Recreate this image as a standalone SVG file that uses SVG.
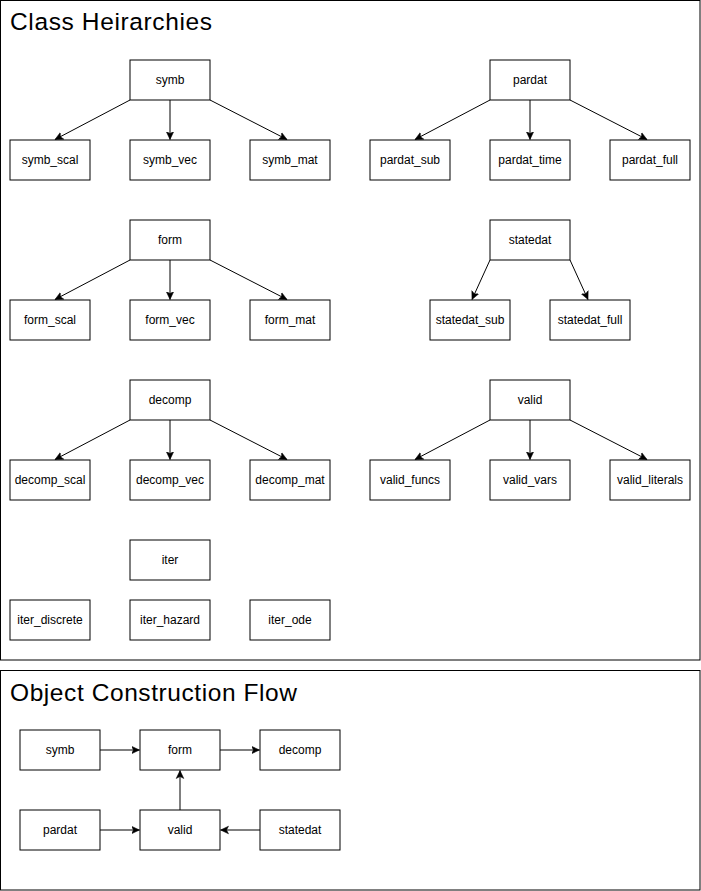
<svg xmlns="http://www.w3.org/2000/svg" width="701" height="891" viewBox="0 0 701 891">
<defs>
<style>
.frame{fill:#fff;stroke:#000;stroke-width:1}
.node rect{fill:#fff;stroke:#000;stroke-width:1}
.node text{font-family:"Liberation Sans",Arial,Helvetica,sans-serif;font-size:12px;fill:#000;text-anchor:middle;dominant-baseline:central}
.title{font-family:"Liberation Sans",Arial,Helvetica,sans-serif;font-size:24.5px;fill:#000}
.edge{fill:none;stroke:#000;stroke-width:1;marker-end:url(#arr)}
</style>
<marker id="arr" markerUnits="userSpaceOnUse" markerWidth="10" markerHeight="10" viewBox="0 0 10 10" refX="8" refY="5" orient="auto">
<path d="M0,1.2 L8,5 L0,8.8 L2,5 Z" fill="#000" stroke="#000" stroke-width="0.5"/>
</marker>
</defs>
<rect width="701" height="891" fill="#fff"/>
<g id="frame-class">
<rect class="frame" x="0.5" y="0.5" width="699.5" height="659.5"/>
<text class="title" x="10" y="30" textLength="202" lengthAdjust="spacing">Class Heirarchies</text>
</g>
<g id="frame-flow">
<rect class="frame" x="0.5" y="670.5" width="699.5" height="219.5"/>
<text class="title" x="10" y="700.5" textLength="287" lengthAdjust="spacing">Object Construction Flow</text>
</g>
<g id="connectors">
<line class="edge" x1="130" y1="100" x2="55" y2="139.5"/>
<line class="edge" x1="170" y1="100" x2="170" y2="139.5"/>
<line class="edge" x1="210" y1="100" x2="287" y2="139.5"/>
<line class="edge" x1="490" y1="100" x2="415" y2="139.5"/>
<line class="edge" x1="530" y1="100" x2="530" y2="139.5"/>
<line class="edge" x1="570" y1="100" x2="647" y2="139.5"/>
<line class="edge" x1="130" y1="260" x2="55" y2="299.5"/>
<line class="edge" x1="170" y1="260" x2="170" y2="299.5"/>
<line class="edge" x1="210" y1="260" x2="287" y2="299.5"/>
<line class="edge" x1="490" y1="260" x2="472" y2="299.5"/>
<line class="edge" x1="570" y1="260" x2="588" y2="299.5"/>
<line class="edge" x1="130" y1="420" x2="55" y2="459.5"/>
<line class="edge" x1="170" y1="420" x2="170" y2="459.5"/>
<line class="edge" x1="210" y1="420" x2="287" y2="459.5"/>
<line class="edge" x1="490" y1="420" x2="415" y2="459.5"/>
<line class="edge" x1="530" y1="420" x2="530" y2="459.5"/>
<line class="edge" x1="570" y1="420" x2="647" y2="459.5"/>
<line class="edge" x1="100" y1="750" x2="139.5" y2="750"/>
<line class="edge" x1="220" y1="750" x2="259.5" y2="750"/>
<line class="edge" x1="100" y1="830" x2="139.5" y2="830"/>
<line class="edge" x1="260" y1="830" x2="220.5" y2="830"/>
<line class="edge" x1="180" y1="810" x2="180" y2="770.5"/>
</g>
<g id="symb" class="node"><rect x="130" y="60" width="80" height="40"/><text x="170" y="80">symb</text></g>
<g id="symb_scal" class="node"><rect x="10" y="140" width="80" height="40"/><text x="50" y="160">symb_scal</text></g>
<g id="symb_vec" class="node"><rect x="130" y="140" width="80" height="40"/><text x="170" y="160">symb_vec</text></g>
<g id="symb_mat" class="node"><rect x="250" y="140" width="80" height="40"/><text x="290" y="160">symb_mat</text></g>
<g id="pardat" class="node"><rect x="490" y="60" width="80" height="40"/><text x="530" y="80">pardat</text></g>
<g id="pardat_sub" class="node"><rect x="370" y="140" width="80" height="40"/><text x="410" y="160">pardat_sub</text></g>
<g id="pardat_time" class="node"><rect x="490" y="140" width="80" height="40"/><text x="530" y="160">pardat_time</text></g>
<g id="pardat_full" class="node"><rect x="610" y="140" width="80" height="40"/><text x="650" y="160">pardat_full</text></g>
<g id="form" class="node"><rect x="130" y="220" width="80" height="40"/><text x="170" y="240">form</text></g>
<g id="form_scal" class="node"><rect x="10" y="300" width="80" height="40"/><text x="50" y="320">form_scal</text></g>
<g id="form_vec" class="node"><rect x="130" y="300" width="80" height="40"/><text x="170" y="320">form_vec</text></g>
<g id="form_mat" class="node"><rect x="250" y="300" width="80" height="40"/><text x="290" y="320">form_mat</text></g>
<g id="statedat" class="node"><rect x="490" y="220" width="80" height="40"/><text x="530" y="240">statedat</text></g>
<g id="statedat_sub" class="node"><rect x="430" y="300" width="80" height="40"/><text x="470" y="320">statedat_sub</text></g>
<g id="statedat_full" class="node"><rect x="550" y="300" width="80" height="40"/><text x="590" y="320">statedat_full</text></g>
<g id="decomp" class="node"><rect x="130" y="380" width="80" height="40"/><text x="170" y="400">decomp</text></g>
<g id="decomp_scal" class="node"><rect x="10" y="460" width="80" height="40"/><text x="50" y="480">decomp_scal</text></g>
<g id="decomp_vec" class="node"><rect x="130" y="460" width="80" height="40"/><text x="170" y="480">decomp_vec</text></g>
<g id="decomp_mat" class="node"><rect x="250" y="460" width="80" height="40"/><text x="290" y="480">decomp_mat</text></g>
<g id="valid" class="node"><rect x="490" y="380" width="80" height="40"/><text x="530" y="400">valid</text></g>
<g id="valid_funcs" class="node"><rect x="370" y="460" width="80" height="40"/><text x="410" y="480">valid_funcs</text></g>
<g id="valid_vars" class="node"><rect x="490" y="460" width="80" height="40"/><text x="530" y="480">valid_vars</text></g>
<g id="valid_literals" class="node"><rect x="610" y="460" width="80" height="40"/><text x="650" y="480">valid_literals</text></g>
<g id="iter" class="node"><rect x="130" y="540" width="80" height="40"/><text x="170" y="560">iter</text></g>
<g id="iter_discrete" class="node"><rect x="10" y="600" width="80" height="40"/><text x="50" y="620">iter_discrete</text></g>
<g id="iter_hazard" class="node"><rect x="130" y="600" width="80" height="40"/><text x="170" y="620">iter_hazard</text></g>
<g id="iter_ode" class="node"><rect x="250" y="600" width="80" height="40"/><text x="290" y="620">iter_ode</text></g>
<g id="flow_symb" class="node"><rect x="20" y="730" width="80" height="40"/><text x="60" y="750">symb</text></g>
<g id="flow_form" class="node"><rect x="140" y="730" width="80" height="40"/><text x="180" y="750">form</text></g>
<g id="flow_decomp" class="node"><rect x="260" y="730" width="80" height="40"/><text x="300" y="750">decomp</text></g>
<g id="flow_pardat" class="node"><rect x="20" y="810" width="80" height="40"/><text x="60" y="830">pardat</text></g>
<g id="flow_valid" class="node"><rect x="140" y="810" width="80" height="40"/><text x="180" y="830">valid</text></g>
<g id="flow_statedat" class="node"><rect x="260" y="810" width="80" height="40"/><text x="300" y="830">statedat</text></g>
</svg>
